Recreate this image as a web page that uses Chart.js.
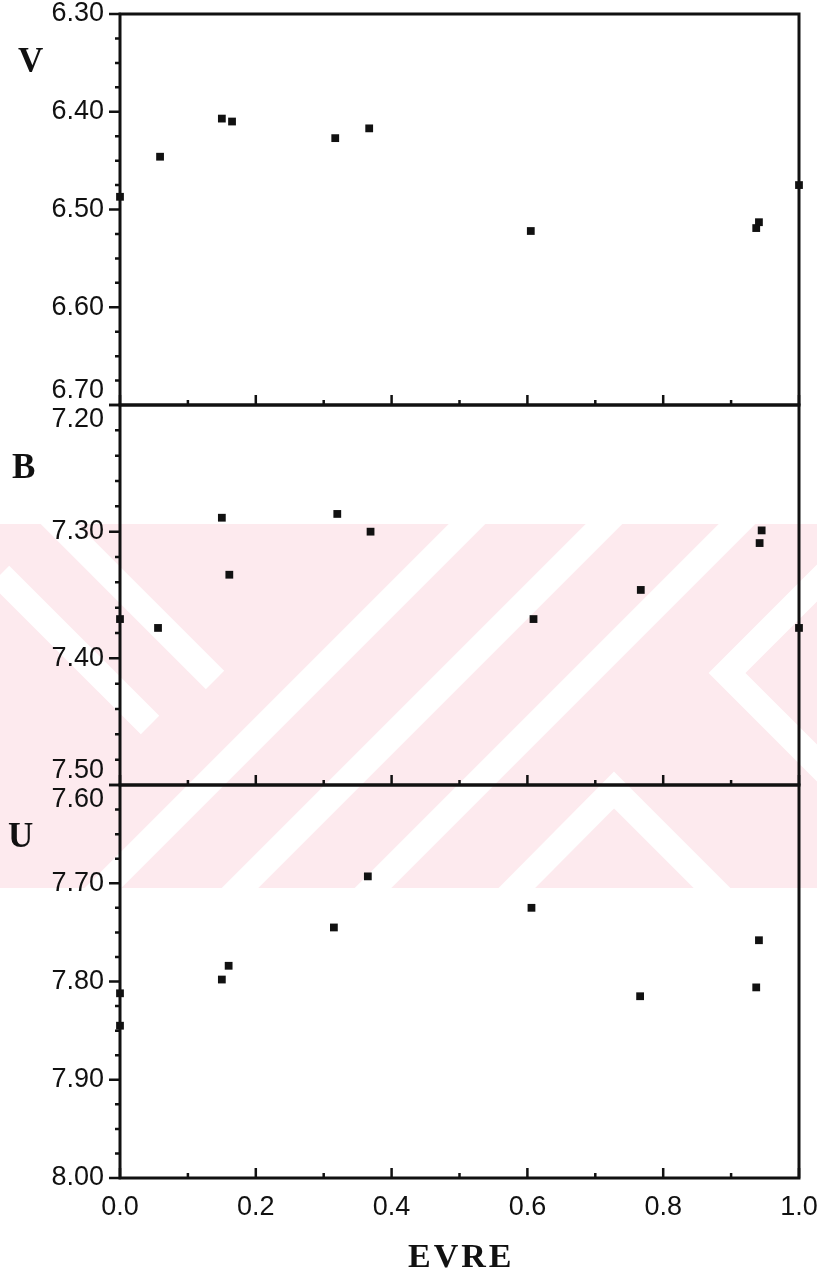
<!DOCTYPE html>
<html>
<head>
<meta charset="utf-8">
<title>V B U - EVRE</title>
<script src="https://cdn.jsdelivr.net/npm/chart.js@4.4.0/dist/chart.umd.min.js"></script>
<style>
    html, body { margin: 0; padding: 0; background: #fff; }
    #wrap { position: relative; width: 817px; height: 1279px; overflow: hidden; }
    #wrap canvas { position: absolute; left: 0; top: 0; }
    .lbl {
        position: absolute;
        font-family: "Liberation Serif", "DejaVu Serif", serif;
        font-weight: bold;
        font-size: 35px;
        line-height: 1;
        color: #111;
    }
</style>
</head>
<body>
<div id="wrap">
    <canvas id="chartV" width="817" height="1279"></canvas>
    <canvas id="chartB" width="817" height="1279"></canvas>
    <canvas id="chartU" width="817" height="1279"></canvas>
    <div class="lbl" style="left:18px; top:43px;">V</div>
    <div class="lbl" style="left:12px; top:449px;">B</div>
    <div class="lbl" style="left:8px; top:818px;">U</div>
    <div class="lbl" style="left:408px; top:1239px; font-size:34px; letter-spacing:3px;">EVRE</div>
</div>

<script>
// 1. Data - phase (EVRE) and magnitude for each filter
const phaseV = [0.000, 0.059, 0.150, 0.165, 0.317, 0.367, 0.605, 0.941, 0.937, 1.000];
const magV   = [6.487, 6.446, 6.407, 6.410, 6.427, 6.417, 6.522, 6.513, 6.519, 6.475];

const phaseB = [0.000, 0.056, 0.150, 0.161, 0.320, 0.369, 0.609, 0.767, 0.945, 0.942, 1.000];
const magB   = [7.369, 7.376, 7.289, 7.334, 7.286, 7.300, 7.369, 7.346, 7.299, 7.309, 7.376];

const phaseU = [0.000, 0.000, 0.150, 0.160, 0.315, 0.365, 0.606, 0.766, 0.941, 0.937];
const magU   = [7.812, 7.845, 7.798, 7.784, 7.745, 7.693, 7.725, 7.815, 7.758, 7.806];

// Axis ranges and labelled ticks
const phaseTicks = [0.0, 0.2, 0.4, 0.6, 0.8, 1.0];
const ticksV = [6.30, 6.40, 6.50, 6.60, 6.70];
const ticksB = [7.20, 7.30, 7.40, 7.50];
const ticksU = [7.60, 7.70, 7.80, 7.90, 8.00];

const INK = '#111';
const PINK = '#fdeaee';

function isLabelled(v, list) {
    return list.some(t => Math.abs(t - v) < 1e-6);
}

// 2. Plugins
// frame around each panel, ticks on the left axis point out, ticks on the bottom edge point in
const framePlugin = {
    id: 'frame',
    afterDatasetsDraw(chart, args, opts) {
        const { ctx, chartArea: a, scales } = chart;
        ctx.save();
        ctx.strokeStyle = INK;
        ctx.lineWidth = 3;
        ctx.strokeRect(a.left, a.top, a.right - a.left, a.bottom - a.top);

        ctx.lineWidth = 2.5;
        ctx.beginPath();
        scales.y.ticks.forEach(t => {
            const y = scales.y.getPixelForValue(t.value);
            const len = isLabelled(t.value, opts.yMajor) ? 11 : 5;
            ctx.moveTo(a.left - len, y);
            ctx.lineTo(a.left + 1, y);
        });
        scales.x.ticks.forEach(t => {
            const x = scales.x.getPixelForValue(t.value);
            const len = isLabelled(t.value, phaseTicks) ? 10 : 5;
            ctx.moveTo(x, a.bottom);
            ctx.lineTo(x, a.bottom - len);
        });
        ctx.stroke();
        ctx.restore();
    }
};

// pale background stamp behind the middle of the page
const stampPlugin = {
    id: 'stamp',
    beforeDraw(chart) {
        const ctx = chart.ctx;
        const top = 524, bottom = 888;
        ctx.save();
        ctx.beginPath();
        ctx.rect(0, top, chart.width, bottom - top);
        ctx.clip();
        ctx.fillStyle = PINK;
        ctx.fillRect(0, top, chart.width, bottom - top);

        ctx.strokeStyle = '#fff';
        ctx.lineWidth = 26;
        ctx.lineCap = 'butt';
        const gaps = [
            [[0, 575], [150, 725]],
            [[40, 505], [215, 680]],
            [[487, 504], [83, 908]],
            [[624, 504], [220, 908]],
            [[757, 504], [353, 908]],
            [[837, 563], [727, 673], [837, 783]],
            [[497, 908], [614, 790], [732, 908]]
        ];
        gaps.forEach(path => {
            ctx.beginPath();
            path.forEach((p, i) => i ? ctx.lineTo(p[0], p[1]) : ctx.moveTo(p[0], p[1]));
            ctx.stroke();
        });
        ctx.restore();
    }
};

// 3. One chart per filter, all stacked on the same page-sized canvas area
function makePanel(canvasId, phases, mags, yMajor, opts) {
    const yMin = yMajor[0];
    const yMax = yMajor[yMajor.length - 1];

    return new Chart(document.getElementById(canvasId), {
        type: 'scatter',
        data: {
            datasets: [{
                data: phases.map((p, i) => ({ x: p, y: mags[i] })),
                pointStyle: 'rect',
                pointRadius: 5.5,
                pointHoverRadius: 5.5,
                backgroundColor: INK,
                borderWidth: 0,
                clip: false
            }]
        },
        options: {
            responsive: false,
            animation: false,
            devicePixelRatio: 1,
            events: [],
            layout: { padding: opts.padding },
            plugins: {
                legend: { display: false },
                tooltip: { enabled: false },
                frame: { yMajor: yMajor }
            },
            scales: {
                x: {
                    type: 'linear',
                    min: 0,
                    max: 1,
                    grid: { display: false, drawTicks: false },
                    border: { display: false },
                    ticks: {
                        display: opts.showX,
                        stepSize: 0.1,
                        autoSkip: false,
                        maxRotation: 0,
                        padding: 13,
                        color: INK,
                        font: { family: 'Liberation Sans', size: 27 },
                        callback: v => isLabelled(v, phaseTicks) ? v.toFixed(1) : ''
                    },
                    afterFit(scale) {
                        scale.paddingLeft = 0;
                        scale.paddingRight = 0;
                        if (opts.showX) scale.height = 60;
                    }
                },
                y: {
                    type: 'linear',
                    reverse: true,
                    min: yMin,
                    max: yMax,
                    grid: { display: false, drawTicks: false },
                    border: { display: false },
                    ticks: {
                        stepSize: opts.step,
                        autoSkip: false,
                        padding: 16,
                        color: INK,
                        font: { family: 'Liberation Sans', size: 27, lineHeight: 1.05 },
                        callback: v => {
                            if (!isLabelled(v, yMajor)) return '';
                            const txt = v.toFixed(2);
                            // labels where two panels meet are pushed apart
                            if (opts.shiftTop && Math.abs(v - yMin) < 1e-6) return ['', txt];
                            if (opts.shiftBottom && Math.abs(v - yMax) < 1e-6) return [txt, ''];
                            return txt;
                        }
                    },
                    afterFit(scale) {
                        scale.width = 120;
                        scale.paddingTop = 0;
                        scale.paddingBottom = 0;
                    }
                }
            }
        },
        plugins: opts.stamp ? [stampPlugin, framePlugin] : [framePlugin]
    });
}

document.addEventListener('DOMContentLoaded', () => {
    makePanel('chartV', phaseV, magV, ticksV, {
        step: 0.025, stamp: true, showX: false, shiftBottom: true,
        padding: { left: 0, right: 18, top: 14, bottom: 874 }
    });
    makePanel('chartB', phaseB, magB, ticksB, {
        step: 0.02, showX: false, shiftTop: true, shiftBottom: true,
        padding: { left: 0, right: 18, top: 405, bottom: 494 }
    });
    makePanel('chartU', phaseU, magU, ticksU, {
        step: 0.025, showX: true, shiftTop: true,
        padding: { left: 0, right: 18, top: 785, bottom: 41 }
    });
});
</script>
</body>
</html>
